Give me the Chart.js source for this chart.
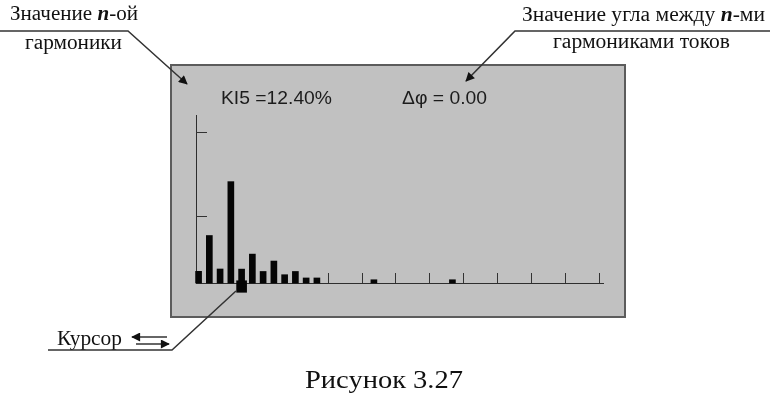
<!DOCTYPE html>
<html>
<head>
<meta charset="utf-8">
<script src="https://cdn.jsdelivr.net/npm/chart.js@4.4.1/dist/chart.umd.min.js"></script>
<style>
    html, body { margin: 0; padding: 0; background: #fff; }
    #page { position: relative; width: 772px; height: 397px; overflow: hidden; }
    #panel { position: absolute; left: 170px; top: 64px; width: 452px; height: 250px;
             background: #c1c1c1; border: 2px solid #5c5c5c; }
    #chart { position: absolute; left: 0; top: 0; }
    #notes { position: absolute; left: 0; top: 0; }
</style>
</head>
<body>
<div id="page">
    <div id="panel"></div>
    <canvas id="chart" width="772" height="397"></canvas>
    <svg id="notes" width="772" height="397" viewBox="0 0 772 397">
        <defs>
            <marker id="ah" viewBox="0 0 10 10" refX="9" refY="5" markerWidth="13" markerHeight="9"
                    markerUnits="userSpaceOnUse" orient="auto">
                <path d="M0,0 L10,5 L0,10 z" fill="#111"/>
            </marker>
        </defs>
        <g font-family="'Liberation Serif', 'Times New Roman', serif" font-size="20" fill="#111">
            <text x="10" y="20" textLength="128" lengthAdjust="spacingAndGlyphs">Значение <tspan font-weight="bold" font-style="italic">n</tspan>-ой</text>
            <text x="25" y="48.5" textLength="97" lengthAdjust="spacingAndGlyphs">гармоники</text>
            <text x="522" y="20.5" textLength="243" lengthAdjust="spacingAndGlyphs">Значение угла между <tspan font-weight="bold" font-style="italic">n</tspan>-ми</text>
            <text x="553" y="47.5" textLength="177" lengthAdjust="spacingAndGlyphs">гармониками токов</text>
            <text x="57" y="345" textLength="65" lengthAdjust="spacingAndGlyphs">Курсор</text>
            <text x="305" y="388" font-size="25" textLength="158" lengthAdjust="spacingAndGlyphs">Рисунок 3.27</text>
        </g>
        <g font-family="'Liberation Sans', Arial, sans-serif" font-size="19" fill="#1c1c1c">
            <text x="221" y="103.5" textLength="111" lengthAdjust="spacingAndGlyphs">KI5 =12.40%</text>
            <text x="402" y="103.5" textLength="85" lengthAdjust="spacingAndGlyphs">Δφ = 0.00</text>
        </g>
        <g stroke="#333" stroke-width="1.5" fill="none">
            <polyline points="0,31 128,31 187,84" marker-end="url(#ah)"/>
            <polyline points="770,31 515,31 466,81" marker-end="url(#ah)"/>
            <polyline points="48,350 172,350 236,291"/>
            <line x1="167" y1="337" x2="132" y2="337" marker-end="url(#ah)"/>
            <line x1="136" y1="344" x2="169" y2="344" marker-end="url(#ah)"/>
        </g>
    </svg>
</div>
<script>
// Спектр гармонік на екрані приладу (номер гармоніки -> рівень, %)
const harmonics = [1, 2, 3, 4, 5, 6, 7, 8, 9, 10, 11, 12, 17.3, 24.6];
const levels    = [10.4, 42.4, 12.5, 90.5, 12.4, 25.8, 10.3, 19.6, 7.4, 10.3, 4.5, 4.5, 2.9, 2.9];
const xTickValues = [13, 16.15, 19.3, 22.45, 25.6, 28.75, 31.9, 35.05, 38.2];
const yTickValues = [60, 135];
const cursorHarmonic = 5;
const cursorSpan = [-8.3, 2.0];

// короткі штрихи всередину області графіка
const innerTicks = {
    id: 'innerTicks',
    beforeDatasetsDraw(chart) {
        const { ctx, chartArea, scales: { x, y } } = chart;
        ctx.save();
        ctx.strokeStyle = '#333';
        ctx.lineWidth = 1;
        ctx.beginPath();
        x.ticks.forEach(t => {
            const px = Math.round(x.getPixelForValue(t.value)) + 0.5;
            ctx.moveTo(px, chartArea.bottom);
            ctx.lineTo(px, chartArea.bottom - 10);
        });
        y.ticks.forEach(t => {
            const py = Math.round(y.getPixelForValue(t.value)) + 0.5;
            ctx.moveTo(chartArea.left, py);
            ctx.lineTo(chartArea.left + 11, py);
        });
        ctx.stroke();
        ctx.restore();
    }
};

const ctx = document.getElementById('chart').getContext('2d');
new Chart(ctx, {
    type: 'bar',
    data: {
        datasets: [
            {
                data: harmonics.map((h, i) => ({ x: h, y: levels[i] })),
                backgroundColor: '#050505',
                barThickness: 6,
                clip: false
            },
            {
                data: [{ x: cursorHarmonic, y: cursorSpan }],
                backgroundColor: '#050505',
                barThickness: 10,
                clip: false
            }
        ]
    },
    options: {
        responsive: false,
        animation: false,
        grouped: false,
        layout: { padding: { left: 196, right: 169, top: 115, bottom: 114 } },
        plugins: { legend: { display: false }, tooltip: { enabled: false } },
        scales: {
            x: {
                type: 'linear', min: 0.76, max: 38.6, offset: false,
                grid: { display: false, drawTicks: false },
                border: { display: true, color: '#2e2e2e', width: 1 },
                ticks: { display: false },
                afterBuildTicks: s => { s.ticks = xTickValues.map(v => ({ value: v })); }
            },
            y: {
                min: 0, max: 150,
                grid: { display: false, drawTicks: false },
                border: { display: true, color: '#2e2e2e', width: 1 },
                ticks: { display: false },
                afterBuildTicks: s => { s.ticks = yTickValues.map(v => ({ value: v })); }
            }
        }
    },
    plugins: [innerTicks]
});
</script>
</body>
</html>
